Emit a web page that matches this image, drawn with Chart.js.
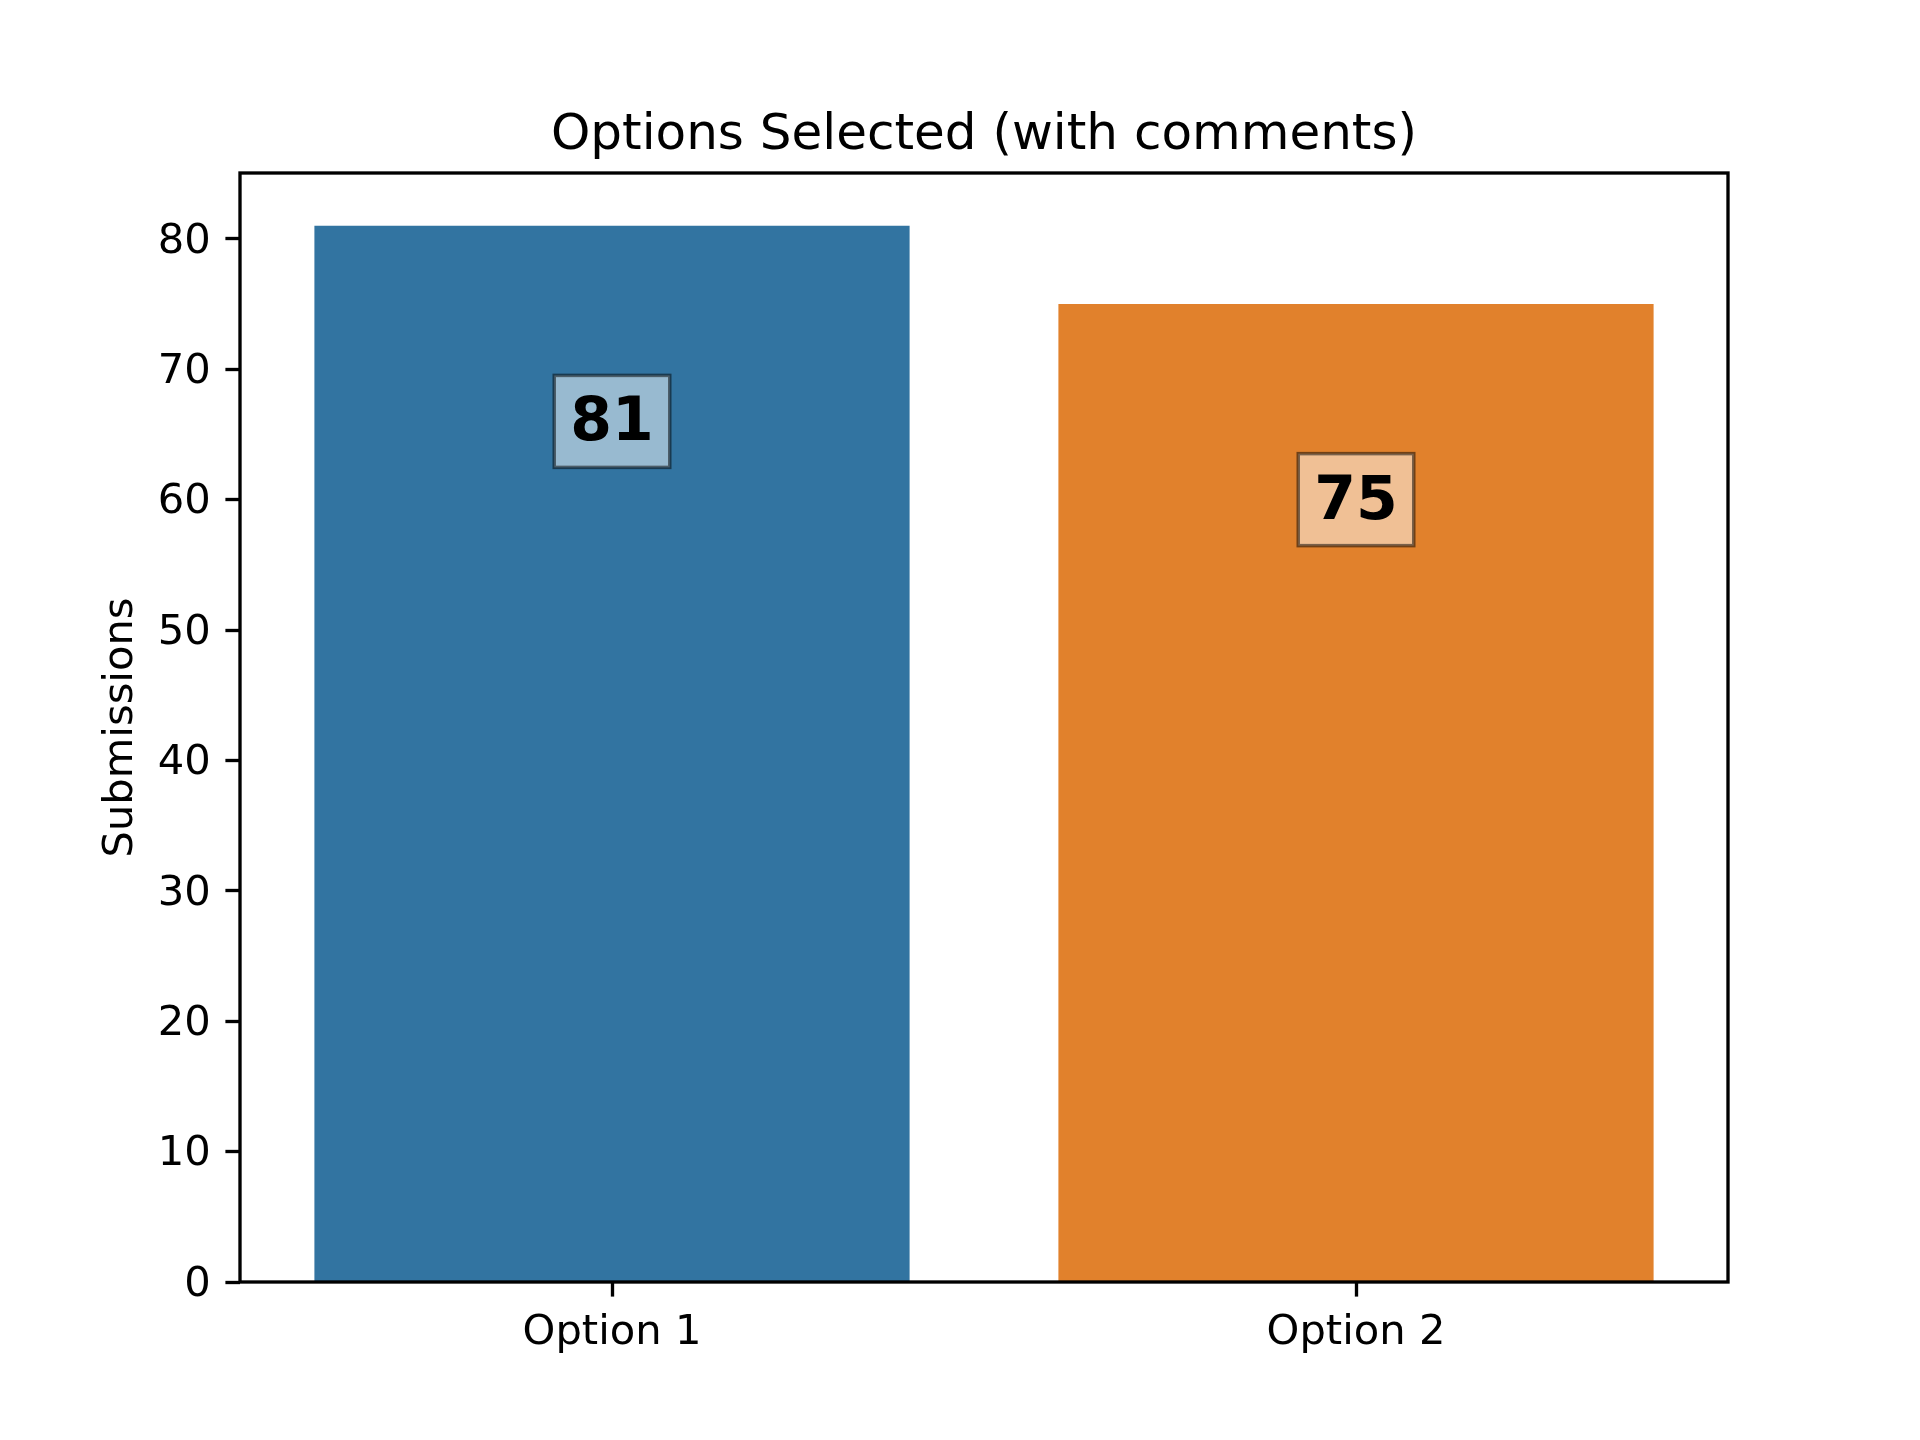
<!DOCTYPE html>
<html>
<head>
<meta charset="utf-8">
<script src="https://cdn.jsdelivr.net/npm/chart.js@4.4.1/dist/chart.umd.min.js"></script>
<style>
  html, body { margin: 0; padding: 0; background: #ffffff; }
  canvas { display: block; }
</style>
</head>
<body>
<canvas id="c" width="1920" height="1440"></canvas>
<script>
// ---- data ----
const categories = ["Option 1", "Option 2"];
const submissions = [81, 75];
const barColors = ["#3274a1", "#e1812c"];
const boxColors = ["#98bad0", "#f0c095"];
const titleText = "Options Selected (with comments)";
const yAxisTitle = "Submissions";
const yTickStep = 10;
const labelDrop = 15; // value labels sit this many units below the bar top

// ---- layout (matplotlib default axes box on a 1920x1440 figure) ----
const AX_LEFT = 240, AX_RIGHT = 1728, AX_TOP = 173, AX_BOTTOM = 1282;
const W = 1920, H = 1440;
const FONT = "'DejaVu Sans', 'Liberation Sans', sans-serif";
const TICK_PX = 41.67, TITLE_PX = 50;
const TICK_LEN = 14.6, LINE_W = 3.33;

const yMax = Math.max(...submissions) * 1.05;

const framePlugin = {
  id: 'frame',
  afterDatasetsDraw(chart) {
    const {ctx, chartArea: a} = chart;
    ctx.save();
    ctx.strokeStyle = '#000';
    ctx.lineWidth = LINE_W;
    ctx.strokeRect(a.left, a.top, a.right - a.left, a.bottom - a.top);
    ctx.restore();
  }
};

const titlePlugin = {
  id: 'axTitle',
  afterDraw(chart) {
    const {ctx, chartArea: a} = chart;
    ctx.save();
    ctx.font = TITLE_PX + "px " + FONT;
    ctx.fillStyle = '#000';
    ctx.textAlign = 'center';
    ctx.textBaseline = 'alphabetic';
    ctx.fillText(titleText, (a.left + a.right) / 2, a.top - 24);
    ctx.restore();
  }
};

const labelPlugin = {
  id: 'valueLabels',
  afterDatasetsDraw(chart) {
    const {ctx} = chart;
    const meta = chart.getDatasetMeta(0);
    const ys = chart.scales.y;
    ctx.save();
    ctx.font = "bold 60px " + FONT;
    meta.data.forEach((bar, i) => {
      const v = submissions[i];
      const cx = bar.x;
      const cy = ys.getPixelForValue(v - labelDrop);
      const txt = String(v);
      const tw = ctx.measureText(txt).width;
      const bw = tw + 32, bh = 92;
      ctx.fillStyle = boxColors[i];
      ctx.fillRect(cx - bw / 2, cy - bh / 2, bw, bh);
      ctx.strokeStyle = 'rgba(0,0,0,0.5)';
      ctx.lineWidth = 3.5;
      ctx.strokeRect(cx - bw / 2, cy - bh / 2, bw, bh);
      ctx.fillStyle = '#000';
      ctx.textAlign = 'center';
      ctx.textBaseline = 'alphabetic';
      ctx.fillText(txt, cx, cy + 19);
    });
    ctx.restore();
  }
};

new Chart(document.getElementById('c'), {
  type: 'bar',
  data: {
    labels: categories,
    datasets: [{
      data: submissions,
      backgroundColor: barColors,
      borderWidth: 0,
      barPercentage: 0.8,
      categoryPercentage: 1.0
    }]
  },
  options: {
    responsive: false,
    devicePixelRatio: 1,
    animation: false,
    layout: { padding: { left: 0, right: W - AX_RIGHT, top: AX_TOP, bottom: 0 } },
    plugins: {
      legend: { display: false },
      tooltip: { enabled: false },
      title: { display: false }
    },
    scales: {
      x: {
        offset: true,
        grid: {
          offset: false,
          drawOnChartArea: false,
          drawTicks: true,
          tickLength: TICK_LEN,
          tickWidth: LINE_W,
          tickColor: '#000'
        },
        border: { display: false },
        ticks: {
          color: '#000',
          font: { family: FONT, size: TICK_PX },
          padding: 12,
          maxRotation: 0
        },
        afterFit(scale) { scale.height = H - AX_BOTTOM; }
      },
      y: {
        min: 0,
        max: yMax,
        grid: {
          drawOnChartArea: false,
          drawTicks: true,
          tickLength: TICK_LEN,
          tickWidth: LINE_W,
          tickColor: '#000'
        },
        border: { display: false },
        ticks: {
          stepSize: yTickStep,
          color: '#000',
          font: { family: FONT, size: TICK_PX },
          padding: 14.6,
          labelOffset: 3
        },
        afterBuildTicks(scale) {
          scale.ticks = scale.ticks.filter(t => Math.abs(t.value / yTickStep - Math.round(t.value / yTickStep)) < 1e-9);
        },
        title: {
          display: true,
          text: yAxisTitle,
          color: '#000',
          font: { family: FONT, size: TICK_PX, lineHeight: 1.2 },
          padding: { top: 96, bottom: 0 }
        },
        afterFit(scale) { scale.width = AX_LEFT; }
      }
    }
  },
  plugins: [framePlugin, labelPlugin, titlePlugin]
});
</script>
</body>
</html>
